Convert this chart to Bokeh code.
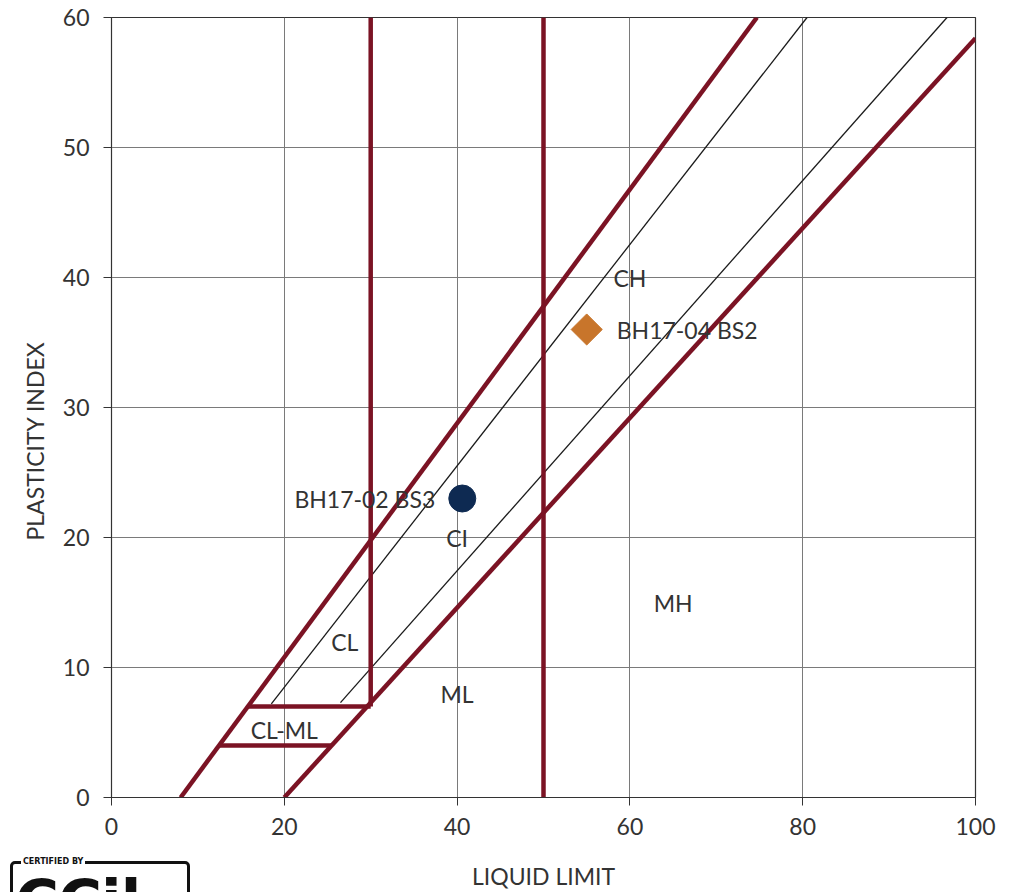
from bokeh.plotting import figure
from bokeh.models import Range1d, Label, FixedTicker, ColumnDataSource, Title, Div
from bokeh.layouts import column
from bokeh.embed import file_html
from bokeh.resources import INLINE

# ---- data ----
u_line_x = [8, 74.7]
u_line_y = [0, 60]
a_line_x = [20, 100]
a_line_y = [0, 58.4]
thin1_x = [18.5, 80.5]
thin1_y = [7.2, 60]
thin2_x = [26.5, 96.7]
thin2_y = [7.3, 60]
v30_x = [30, 30]
v30_y = [7, 60]
v50_x = [50, 50]
v50_y = [0, 60]
h7_x = [15.8, 30]
h7_y = [7, 7]
h4_x = [12.4, 25.5]
h4_y = [4, 4]

samples = ["BH17-02 BS3", "BH17-04 BS2"]
sample_ll = [40.6, 55.0]
sample_pi = [23.0, 36.0]

zone_names = ["CH", "CI", "CL", "CL-ML", "ML", "MH"]
zone_x = [60, 40, 27, 20, 40, 65]
zone_y = [40, 20, 12, 5.2, 8, 15]

x_ticks = [0, 20, 40, 60, 80, 100]
y_ticks = [0, 10, 20, 30, 40, 50, 60]

FONT = "Lato"
RED = "#7B1324"
TXT = "#333333"
FS = "23px"

p = figure(width=1011, height=892, output_backend="svg", toolbar_location=None,
           x_range=Range1d(0, 100), y_range=Range1d(0, 60),
           min_border_left=111, min_border_right=36, min_border_top=17,
           min_border_bottom=95)
p.outline_line_color = "#333333"
p.outline_line_width = 1.2

for ax in (p.xaxis, p.yaxis):
    ax.axis_line_color = "#333333"
    ax.major_tick_line_color = "#333333"
    ax.major_tick_out = 8
    ax.major_tick_in = 0
    ax.minor_tick_line_color = None
    ax.major_label_text_font = FONT
    ax.major_label_text_font_size = FS
    ax.major_label_text_color = TXT
    ax.axis_label_text_font = FONT
    ax.axis_label_text_font_size = FS
    ax.axis_label_text_color = TXT
    ax.axis_label_text_font_style = "normal"

p.xaxis.ticker = FixedTicker(ticks=x_ticks)
p.yaxis.ticker = FixedTicker(ticks=y_ticks)
p.xaxis.major_label_standoff = 12
p.yaxis.major_label_standoff = 14
p.xaxis.axis_label = "LIQUID LIMIT"
p.xaxis.axis_label_standoff = 24

p.xgrid.grid_line_color = "#7a7a7a"
p.ygrid.grid_line_color = "#7a7a7a"
p.xgrid.grid_line_width = 1
p.ygrid.grid_line_width = 1

ytitle = Title(text="PLASTICITY INDEX", align="left", offset=257,
               text_font=FONT, text_font_size=FS, text_color=TXT,
               text_font_style="normal", standoff=22)
p.add_layout(ytitle, "left")

# thin boundary lines
for xs, ys in [(thin1_x, thin1_y), (thin2_x, thin2_y)]:
    p.line(xs, ys, line_color="#1a1a1a", line_width=1.3)

# thick lines
for xs, ys in [(u_line_x, u_line_y), (a_line_x, a_line_y), (v30_x, v30_y),
               (v50_x, v50_y), (h7_x, h7_y), (h4_x, h4_y)]:
    p.line(xs, ys, line_color=RED, line_width=4.5)

# zone labels
zsrc = ColumnDataSource(dict(x=zone_x, y=zone_y, t=zone_names))
p.text(x="x", y="y", text="t", source=zsrc, text_align="center",
       text_baseline="middle", text_font_size=FS, text_color=TXT,
       text_font={"value": FONT})

# samples
p.scatter([sample_ll[0]], [sample_pi[0]], marker="circle", size=27,
          fill_color="#0E2A52", line_color="#0E2A52")
p.scatter([sample_ll[1]], [sample_pi[1]], marker="square", size=22, angle=0.785398,
          fill_color="#C8752B", line_color="#C8752B")
p.add_layout(Label(x=sample_ll[0], y=sample_pi[0], text=samples[0],
                   x_offset=-27, text_align="right", text_baseline="middle",
                   text_font=FONT, text_font_size=FS, text_color=TXT))
p.add_layout(Label(x=sample_ll[1], y=sample_pi[1], text=samples[1],
                   x_offset=30, text_align="left", text_baseline="middle",
                   text_font=FONT, text_font_size=FS, text_color=TXT))

# certification logo (approximation, overlaid at bottom-left)
logo_html = (
    '<div style="position:absolute; left:5px; top:-36px; width:180px; height:60px;'
    ' border:3px solid #111; border-radius:5px; background:white;'
    ' font-family:\'DejaVu Sans\'; font-weight:bold; color:#111;">'
    '<span style="position:absolute; left:8px; top:-7px; background:white;'
    ' font-size:8px; line-height:9px; padding:0 2px;">CERTIFIED BY</span>'
    '<span style="position:absolute; left:2px; top:8px; font-size:60px;'
    ' line-height:60px; letter-spacing:-1px;">CC<span style="font-size:60px;">i</span>l'
    '<span style="color:#c0392b; font-size:34px;">&#10003;</span></span></div>'
)
logo = Div(text=logo_html, width=200, height=1)

layout = column(p, logo)
open("out.html", "w").write(file_html(layout, INLINE))
